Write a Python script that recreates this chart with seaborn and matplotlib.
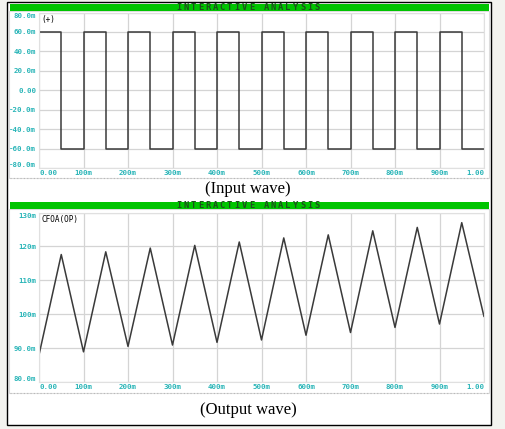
import numpy as np
import pandas as pd
import seaborn as sns
import matplotlib.pyplot as plt
from matplotlib.patches import Rectangle
from matplotlib.lines import Line2D
from matplotlib.ticker import MultipleLocator

# input square wave (ms, mV)
in_t = [0, 0, 50, 50, 100, 100, 150, 150, 200, 200, 250, 250, 300, 300, 350, 350,
        400, 400, 450, 450, 500, 500, 550, 550, 600, 600, 650, 650, 700, 700, 750, 750,
        800, 800, 850, 850, 900, 900, 950, 950, 1000]
in_v = [0, 60, 60, -60, -60, 60, 60, -60, -60, 60, 60, -60, -60, 60, 60, -60,
        -60, 60, 60, -60, -60, 60, 60, -60, -60, 60, 60, -60, -60, 60, 60, -60,
        -60, 60, 60, -60, -60, 60, 60, -60, -60]

# output triangle wave (ms, mV)
out_t = [0, 50, 100, 150, 200, 250, 300, 350, 400, 450, 500,
         550, 600, 650, 700, 750, 800, 850, 900, 950, 1000]
out_v = [88.0, 117.6, 88.9, 118.4, 90.5, 119.5, 90.9, 120.3, 91.7, 121.3, 92.4,
         122.5, 93.8, 123.4, 94.6, 124.6, 96.1, 125.6, 97.1, 127.0, 99.3]

x_ticks = [0, 100, 200, 300, 400, 500, 600, 700, 800, 900, 1000]
x_labels = ["0.00", "100m", "200m", "300m", "400m", "500m", "600m", "700m", "800m", "900m", "1.00"]
y1_ticks = [-80, -60, -40, -20, 0, 20, 40, 60, 80]
y1_labels = ["-80.0m", "-60.0m", "-40.0m", "-20.0m", "0.00", "20.0m", "40.0m", "60.0m", "80.0m"]
y2_ticks = [80, 90, 100, 110, 120, 130]
y2_labels = ["80.0m", "90.0m", "100m", "110m", "120m", "130m"]

sns.set_style("white")
plt.rcParams["font.family"] = ["DejaVu Sans Mono"]

W, H = 505, 429
fig = plt.figure(figsize=(W / 100, H / 100), dpi=100)
fig.patch.set_facecolor("#f3f3ef")


def px(x0, y0, x1, y1):
    return [x0 / W, 1 - y1 / H, (x1 - x0) / W, (y1 - y0) / H]


# white framed box
fig.patches.append(Rectangle((7 / W, 1 - 425 / H), 483.5 / W, 423 / H, transform=fig.transFigure,
                             facecolor="white", edgecolor="black", lw=1, zorder=-5))

cyan = "#2ab5b8"
line_c = "#3a3a3a"
grid_c = "#d4d4d4"


def header(y0, y1):
    fig.patches.append(Rectangle((10 / W, 1 - y1 / H), 479 / W, (y1 - y0) / H, transform=fig.transFigure,
                                 facecolor="#00c400", edgecolor="none", zorder=1))
    txt = "INTERACTIVE ANALYSIS"
    x = 178.5
    for ch in txt:
        fig.text(x / W, 1 - (y1 - 0.8) / H, ch, ha="center", va="baseline", fontsize=6.3,
                 fontweight="bold", color="#1d4f1d", zorder=2)
        x += 7.3


def frame(y0, y1):
    fig.patches.append(Rectangle((9 / W, 1 - y1 / H), 480 / W, (y1 - y0) / H, transform=fig.transFigure,
                                 facecolor="none", edgecolor="#dcdcdc", lw=0.8, zorder=-4))
    fig.add_artist(Line2D([10 / W, 489 / W], [1 - y1 / H, 1 - y1 / H], color="#b8b8b8",
                          lw=0.8, ls=(0, (1, 2)), zorder=-3))


def style_axis(ax, yticks, ylabels, ylim):
    ax.set_xlim(0, 1000)
    ax.set_ylim(*ylim)
    ax.set_xticks(x_ticks)
    ax.set_yticks(yticks)
    ax.set_xticklabels(x_labels, fontweight="bold")
    ax.set_yticklabels(ylabels, fontweight="bold")
    ax.xaxis.set_minor_locator(MultipleLocator(20))
    ax.yaxis.set_minor_locator(MultipleLocator((yticks[1] - yticks[0]) / 5))
    ax.tick_params(axis="both", which="major", length=0, labelsize=5.3, labelcolor=cyan, pad=2)
    ax.tick_params(axis="both", which="minor", length=1.5, color="#bbbbbb", direction="out")
    ax.tick_params(axis="x", pad=1.5)
    for lab in ax.get_xticklabels()[:1]:
        lab.set_ha("left")
    for lab in ax.get_xticklabels()[-1:]:
        lab.set_ha("right")
    ax.grid(True, color=grid_c, lw=0.9)
    ax.set_axisbelow(True)
    for s in ax.spines.values():
        s.set_color("#e0e0e0")
        s.set_linewidth(0.8)
    ax.set_xlabel("")
    ax.set_ylabel("")
    labs = ax.get_yticklabels()
    labs[0].set_va("bottom")
    labs[-1].set_va("top")


# top panel
header(4, 11)
frame(11, 178)
ax1 = fig.add_axes(px(39, 12.5, 484, 168))
ax1.set_zorder(3)
df_in = pd.DataFrame({"t": in_t, "v": in_v})
sns.lineplot(data=df_in, x="t", y="v", ax=ax1, color=line_c, lw=1.1, sort=False, estimator=None)
style_axis(ax1, y1_ticks, y1_labels, (-80, 80))
ax1.text(6, 77, "(+)", fontsize=5.5, color="black", va="top")
fig.text(248 / W, 1 - 189 / H, "(Input wave)", ha="center", va="center",
         family="Liberation Serif", fontsize=12, color="black")

# bottom panel
header(201.5, 208.5)
frame(208.5, 393)
ax2 = fig.add_axes(px(39, 212.5, 484, 382))
ax2.set_zorder(3)
df_out = pd.DataFrame({"t": out_t, "v": out_v})
sns.lineplot(data=df_out, x="t", y="v", ax=ax2, color=line_c, lw=1.1, sort=False, estimator=None)
style_axis(ax2, y2_ticks, y2_labels, (80, 130))
ax2.text(6, 129.3, "CFOA(OP)", fontsize=5.5, color="black", va="top")
fig.text(248 / W, 1 - 409.5 / H, "(Output wave)", ha="center", va="center",
         family="Liberation Serif", fontsize=12, color="black")

fig.savefig("out.png", dpi=100, facecolor=fig.get_facecolor())
